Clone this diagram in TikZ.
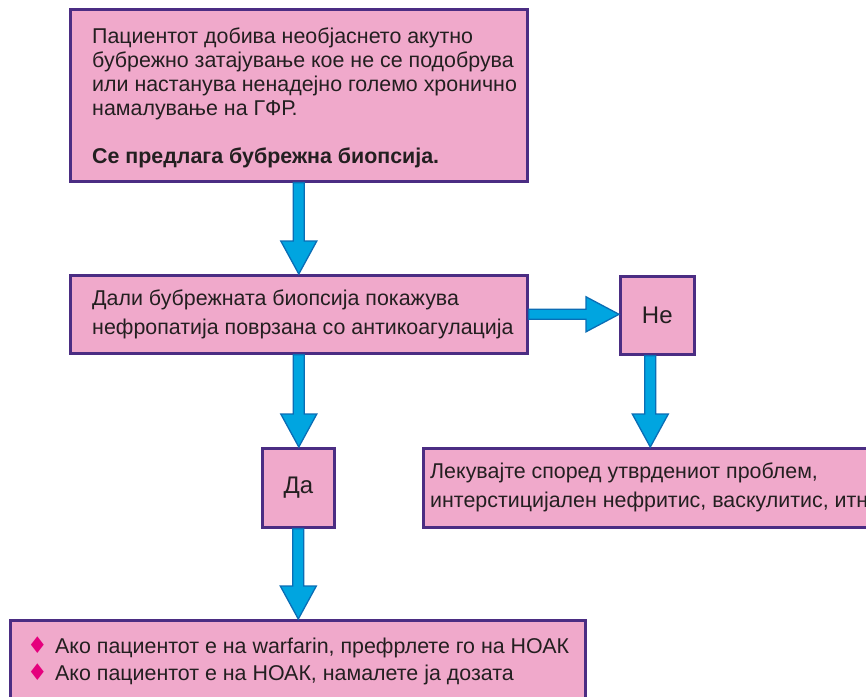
\documentclass[tikz,border=0pt]{standalone}
\usepackage{fontspec}
\setmainfont{Liberation Sans}
\newfontfamily\symfont{DejaVu Sans}
\usetikzlibrary{calc}
\definecolor{boxpink}{HTML}{F0A9CB}
\definecolor{boxline}{HTML}{4B2D83}
\definecolor{arrfill}{HTML}{00A5E0}
\definecolor{arrline}{HTML}{0A6DB5}
\definecolor{txt}{HTML}{231F20}
\definecolor{bulletc}{HTML}{E5007D}
\newcommand\dnarrow[2]{\draw[barrow] ($(#1)+(-5.5,0)$) -- ($(#2)+(-5.5,-33)$) -- ($(#2)+(-18,-33)$) -- (#2) -- ($(#2)+(18,-33)$) -- ($(#2)+(5.5,-33)$) -- ($(#1)+(5.5,0)$) -- cycle;}
\newcommand\rtarrow[2]{\draw[barrow] ($(#1)+(0,-5)$) -- ($(#2)+(-33,-5)$) -- ($(#2)+(-33,-17.5)$) -- (#2) -- ($(#2)+(-33,17.5)$) -- ($(#2)+(-33,5)$) -- ($(#1)+(0,5)$) -- cycle;}
\newcommand\bul{\makebox[28pt][l]{\textcolor{bulletc}{\symfont\fontsize{23}{23}\selectfont ♦}}}
\begin{document}
\begin{tikzpicture}[x=1pt,y=-1pt,
 box/.style={draw=boxline, fill=boxpink, line width=2.6pt, anchor=north west, inner sep=0pt, text=txt, font=\fontsize{24}{24}\selectfont},
 txtnode/.style={anchor=west, inner sep=0pt, align=left, text=txt, font=\fontsize{21.4}{#1}\selectfont},
 txtnode/.default=24,
 barrow/.style={draw=arrline, fill=arrfill, line width=1.3pt, line join=miter}]
\useasboundingbox[fill=white] (0,0) rectangle (866,696);
\clip (0,0) rectangle (866,696);

\node[box, minimum width=457, minimum height=172] (b1) at (69,8) {};
\node[txtnode] (t1) at ($(b1.west)+(23,3)$)
 {Пациентот добива необјаснето акутно\\бубрежно затајување кое не се подобрува\\или настанува ненадејно големо хронично\\намалување на ГФР.\\[24pt]\textbf{Се предлага бубрежна биопсија.}};

\node[box, minimum width=457, minimum height=78] (b2) at (69,274) {};
\node[txtnode=29] (t2) at ($(b2.west)+(23,0)$)
 {Дали бубрежната биопсија покажува\\нефропатија поврзана со антикоагулација};

\node[box, minimum width=74, minimum height=78] (ne) at (619,275) {Не};

\node[box, minimum width=72, minimum height=79] (da) at (261,447) {Да};

\node[box, minimum width=500, minimum height=79] (lek) at (422,447) {};
\node[txtnode=29] (t3) at ($(lek.west)+(8,0)$)
 {Лекувајте според утврдениот проблем,\\интерстицијален нефритис, васкулитис, итн};

\node[box, minimum width=575, minimum height=80] (bot) at (9,619) {};
\node[txtnode=27] (t4) at ($(bot.west)+(18,1)$)
 {\bul Ако пациентот е на warfarin, префрлете го на НОАК\\\bul Ако пациентот е на НОАК, намалете ја дозата};

\coordinate (a2t) at (b2.south |- da.north);
\coordinate (a3t) at (da.south |- bot.north);
\coordinate (a4s) at ($(ne.south)+(-7,0)$);
\coordinate (a4t) at (a4s |- lek.north);
\coordinate (aht) at (b2.east -| ne.west);

\dnarrow{b1.south}{b2.north}
\dnarrow{b2.south}{a2t}
\dnarrow{da.south}{a3t}
\dnarrow{a4s}{a4t}
\rtarrow{b2.east}{aht}
\end{tikzpicture}
\end{document}
